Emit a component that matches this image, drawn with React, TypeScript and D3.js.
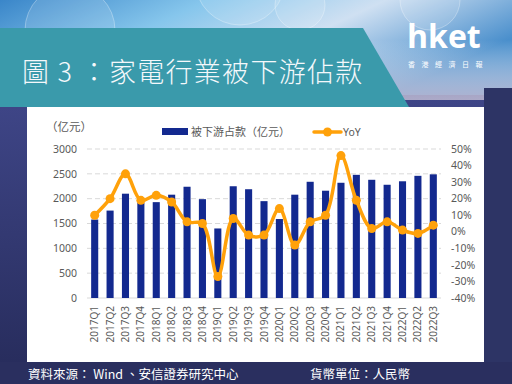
import React, { useEffect, useRef } from "react";
import * as d3 from "d3";

const quarters = [
  "2017Q1", "2017Q2", "2017Q3", "2017Q4",
  "2018Q1", "2018Q2", "2018Q3", "2018Q4",
  "2019Q1", "2019Q2", "2019Q3", "2019Q4",
  "2020Q1", "2020Q2", "2020Q3", "2020Q4",
  "2021Q1", "2021Q2", "2021Q3", "2021Q4",
  "2022Q1", "2022Q2", "2022Q3"
];
// 被下游占款 (亿元)
const occupied = [
  1580, 1760, 2100, 1920, 1930, 2080, 2240, 1990,
  1400, 2250, 2190, 1950, 1590, 2080, 2340, 2160,
  2320, 2480, 2380, 2280, 2350, 2460, 2490
];
// YoY (%)
const yoy = [
  10, 20, 35, 19, 22, 18, 6, 5,
  -27, 8, -2, -2, 14, -8, 6, 10,
  46, 19, 2, 6, 1, -1, 4
];
const leftTicks = [0, 500, 1000, 1500, 2000, 2500, 3000];
const rightTicks = [-40, -30, -20, -10, 0, 10, 20, 30, 40, 50];

const W = 512;
const H = 384;
const plot = { left: 87, right: 441, top: 149, bottom: 298 };
const cjk = "'Noto Sans CJK TC', 'Noto Sans', sans-serif";
const num = "'Noto Sans', 'DejaVu Sans', sans-serif";

function Chart() {
  const ref = useRef<SVGSVGElement | null>(null);

  useEffect(() => {
    const svg = d3.select(ref.current);
    svg.selectAll("*").remove();

    const defs = svg.append("defs");
    const sky = defs.append("linearGradient").attr("id", "sky").attr("x1", 0).attr("y1", 0).attr("x2", 1).attr("y2", 0.4);
    sky.append("stop").attr("offset", "0").attr("stop-color", "#3a86c9");
    sky.append("stop").attr("offset", "0.35").attr("stop-color", "#86c6ec");
    sky.append("stop").attr("offset", "0.65").attr("stop-color", "#cfe0f2");
    sky.append("stop").attr("offset", "1").attr("stop-color", "#4a8fcc");
    const low = defs.append("linearGradient").attr("id", "low").attr("x1", 0).attr("y1", 0).attr("x2", 0).attr("y2", 1);
    low.append("stop").attr("offset", "0").attr("stop-color", "#8d93c0");
    low.append("stop").attr("offset", "0.25").attr("stop-color", "#3f4688");
    low.append("stop").attr("offset", "1").attr("stop-color", "#262b5a");

    // background
    svg.append("rect").attr("width", W).attr("height", H).attr("fill", "url(#low)");
    svg.append("rect").attr("width", W).attr("height", 95).attr("fill", "url(#sky)");
    const fade = defs.append("linearGradient").attr("id", "fade").attr("x1", 0).attr("y1", 0).attr("x2", 0).attr("y2", 1);
    fade.append("stop").attr("offset", "0").attr("stop-color", "#ffffff").attr("stop-opacity", 0);
    fade.append("stop").attr("offset", "1").attr("stop-color", "#b8b4cf").attr("stop-opacity", 0.9);
    svg.append("rect").attr("y", 40).attr("width", W).attr("height", 60).attr("fill", "url(#fade)");
    svg.append("rect").attr("x", 484).attr("y", 88).attr("width", 28).attr("height", H - 88).attr("fill", "#2d3465");
    svg.append("rect").attr("x", 0).attr("y", 362).attr("width", W).attr("height", 22).attr("fill", "#2a2f5f");
    [[70, 30, 45], [240, -20, 45], [430, 0, 30], [300, 5, 25]].forEach(([cx, cy, r]) => {
      svg.append("circle").attr("cx", cx).attr("cy", cy).attr("r", r)
        .attr("fill", "#ffffff").attr("fill-opacity", 0.12)
        .attr("stroke", "#ffffff").attr("stroke-opacity", 0.3);
    });

    // title banner
    svg.append("path").attr("d", "M0,28 L363,28 L409,107 L0,107 Z").attr("fill", "#3a9aab");
    svg.append("text").attr("x", 22).attr("y", 82)
      .attr("font-family", cjk).attr("font-size", 27).attr("font-weight", 300).attr("fill", "#f4f8fb")
      .attr("letter-spacing", 1.3)
      .text("圖 3 ：家電行業被下游佔款");

    // logo
    svg.append("text").attr("x", 407).attr("y", 48)
      .attr("font-family", "'Open Sans', 'Noto Sans', sans-serif").attr("font-weight", 700)
      .attr("font-size", 32).attr("fill", "#ffffff").attr("letter-spacing", 0).text("hket");
    svg.append("text").attr("x", 408).attr("y", 67)
      .attr("font-family", cjk).attr("font-size", 7).attr("fill", "#ffffff")
      .attr("letter-spacing", 6.5).text("香港經濟日報");

    // chart panel
    svg.append("rect").attr("x", 27).attr("y", 107).attr("width", 457).attr("height", 255).attr("fill", "#ffffff");

    const x = d3.scaleBand<string>().domain(quarters).range([plot.left, plot.right]).paddingInner(0.54).paddingOuter(0.27);
    const yL = d3.scaleLinear().domain([0, 3000]).range([plot.bottom, plot.top]);
    const yR = d3.scaleLinear().domain([-40, 50]).range([plot.bottom, plot.top]);

    const g = svg.append("g");
    // grid
    g.selectAll(".grid").data(leftTicks.filter(t => t > 0)).enter().append("line")
      .attr("x1", plot.left).attr("x2", plot.right)
      .attr("y1", d => yL(d)).attr("y2", d => yL(d))
      .attr("stroke", "#d9d9d9").attr("stroke-width", 1).attr("stroke-dasharray", "5,3");
    g.append("line").attr("x1", plot.left).attr("x2", plot.right)
      .attr("y1", yL(0)).attr("y2", yL(0)).attr("stroke", "#d9d9d9");

    // left ticks
    g.selectAll(".lt").data(leftTicks).enter().append("text")
      .attr("x", 77).attr("y", d => yL(d)).attr("dy", "0.35em")
      .attr("text-anchor", "end").attr("font-family", num).attr("font-size", 10.5)
      .attr("fill", "#595959").text(d => String(d));
    // right ticks
    g.selectAll(".rt").data(rightTicks).enter().append("text")
      .attr("x", 451).attr("y", d => yR(d)).attr("dy", "0.35em")
      .attr("text-anchor", "start").attr("font-family", num).attr("font-size", 10.5)
      .attr("fill", "#595959").text(d => d + "%");
    // x labels
    g.selectAll(".xl").data(quarters).enter().append("text")
      .attr("transform", d => `translate(${(x(d) as number) + x.bandwidth() / 2},${plot.bottom + 8}) rotate(-90)`)
      .attr("dy", "0.35em").attr("text-anchor", "end")
      .attr("font-family", num).attr("font-size", 10).attr("fill", "#595959")
      .text(d => d);

    // bars
    g.selectAll(".bar").data(quarters).enter().append("rect")
      .attr("x", d => x(d) as number).attr("width", x.bandwidth())
      .attr("y", (d, i) => yL(occupied[i]))
      .attr("height", (d, i) => plot.bottom - yL(occupied[i]))
      .attr("fill", "#13298f");

    // yoy line
    const pts: [number, number][] = quarters.map((q, i) => [(x(q) as number) + x.bandwidth() / 2, yR(yoy[i])]);
    const line = d3.line().curve(d3.curveCatmullRom.alpha(0.5));
    g.append("path").attr("d", line(pts)).attr("fill", "none")
      .attr("stroke", "#ffa10a").attr("stroke-width", 3.5).attr("stroke-linejoin", "round");
    g.selectAll(".pt").data(pts).enter().append("circle")
      .attr("cx", d => d[0]).attr("cy", d => d[1]).attr("r", 4.5).attr("fill", "#ffa10a");

    // unit
    svg.append("text").attr("x", 46).attr("y", 131)
      .attr("font-family", "'Noto Sans CJK SC', sans-serif").attr("font-size", 11.5).attr("fill", "#595959")
      .text("（亿元）");

    // legend
    svg.append("rect").attr("x", 162).attr("y", 128).attr("width", 26).attr("height", 7).attr("fill", "#13298f");
    svg.append("text").attr("x", 191).attr("y", 136)
      .attr("font-family", "'Noto Sans CJK SC', sans-serif").attr("font-size", 11).attr("fill", "#595959")
      .text("被下游占款（亿元）");
    svg.append("line").attr("x1", 314).attr("x2", 341).attr("y1", 132).attr("y2", 132)
      .attr("stroke", "#ffa10a").attr("stroke-width", 3.5).attr("stroke-linecap", "round");
    svg.append("circle").attr("cx", 327.5).attr("cy", 132).attr("r", 4.5).attr("fill", "#ffa10a");
    svg.append("text").attr("x", 343).attr("y", 136)
      .attr("font-family", num).attr("font-size", 10.5).attr("fill", "#595959").text("YoY");

    // footer
    svg.append("text").attr("x", 28).attr("y", 379)
      .attr("font-family", cjk).attr("font-size", 12.5).attr("fill", "#ffffff")
      .text("資料來源： Wind 、安信證券研究中心");
    svg.append("text").attr("x", 310).attr("y", 379)
      .attr("font-family", cjk).attr("font-size", 12.5).attr("fill", "#ffffff")
      .text("貨幣單位：人民幣");
  }, []);

  return <svg ref={ref} width={W} height={H} style={{ position: "fixed", left: 0, top: 0, display: "block" }} />;
}

export default function App() {
  return (
    <div>
      <Chart />
    </div>
  );
}
